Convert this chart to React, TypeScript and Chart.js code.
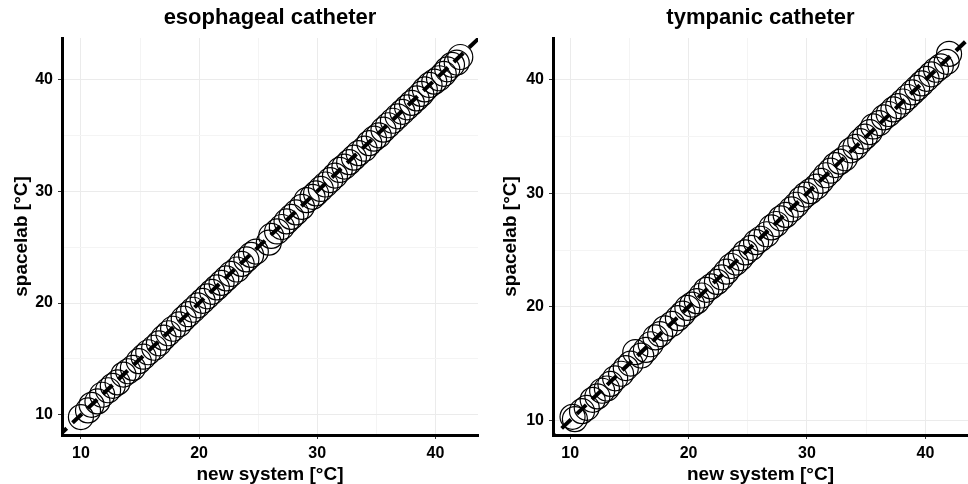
import { useEffect, useRef } from 'react';
import { Chart, registerables } from 'chart.js';

Chart.register(...registerables);

const esoX = [10.0, 10.6, 10.9, 11.4, 11.8, 12.3, 12.7, 13.1, 13.6, 14.0, 14.4, 14.9, 15.3, 15.7, 16.2, 16.6, 17.0, 17.4, 17.8, 18.3, 18.7, 19.1, 19.5, 19.9, 20.3, 20.7, 21.1, 21.5, 21.9, 22.3, 22.7, 23.2, 23.6, 24.0, 24.4, 24.8, 25.9, 26.1, 26.6, 27.0, 27.4, 27.8, 28.2, 28.7, 29.1, 29.6, 29.9, 30.3, 30.7, 31.1, 31.5, 31.9, 32.3, 32.7, 33.1, 33.5, 34.0, 34.4, 34.8, 35.2, 35.6, 36.0, 36.4, 36.8, 37.2, 37.6, 38.0, 38.4, 38.8, 39.1, 39.5, 39.9, 40.3, 40.7, 41.0, 41.4, 41.8, 42.1];
const esoY = [9.8, 10.4, 10.9, 11.2, 11.8, 12.2, 12.6, 12.9, 13.6, 13.9, 14.2, 14.8, 15.2, 15.6, 16.0, 16.4, 16.9, 17.3, 17.7, 18.1, 18.6, 19.0, 19.4, 19.8, 20.2, 20.6, 21.0, 21.4, 21.8, 22.2, 22.6, 23.0, 23.5, 23.9, 24.3, 24.6, 25.4, 26.0, 26.4, 26.8, 27.3, 27.7, 28.1, 28.6, 29.2, 29.5, 29.8, 30.2, 30.6, 31.0, 31.4, 31.9, 32.2, 32.6, 33.0, 33.4, 33.8, 34.3, 34.7, 35.0, 35.5, 35.9, 36.3, 36.7, 37.1, 37.5, 37.9, 38.3, 38.7, 39.1, 39.5, 39.8, 40.1, 40.5, 40.9, 41.3, 41.5, 42.0];

const tymX = [10.2, 10.4, 11.0, 11.4, 11.9, 12.3, 12.7, 13.1, 13.4, 13.8, 14.3, 14.7, 15.1, 15.5, 16.0, 16.4, 16.8, 17.2, 17.6, 18.0, 18.6, 19.1, 19.5, 19.9, 20.3, 20.7, 21.1, 21.5, 21.9, 22.4, 22.8, 23.2, 23.6, 24.0, 24.4, 24.8, 25.3, 25.7, 26.1, 26.6, 27.0, 27.4, 27.8, 28.2, 28.7, 29.1, 29.5, 29.9, 30.3, 30.8, 31.2, 31.6, 32.0, 32.4, 32.8, 33.2, 33.7, 34.1, 34.5, 34.9, 35.3, 35.6, 36.1, 36.5, 36.9, 37.3, 37.7, 38.1, 38.5, 38.9, 39.3, 39.7, 40.1, 40.5, 40.9, 41.3, 41.8, 42.0];
const tymY = [10.3, 10.1, 10.8, 11.1, 11.8, 12.1, 12.6, 12.8, 13.2, 13.7, 14.1, 14.6, 15.0, 16.0, 15.7, 16.2, 16.7, 17.3, 17.6, 18.1, 18.5, 19.0, 19.4, 19.9, 20.2, 20.5, 21.0, 21.5, 21.8, 22.2, 22.6, 23.1, 23.6, 23.9, 24.3, 24.8, 25.2, 25.7, 26.0, 26.4, 27.0, 27.3, 27.8, 28.1, 28.6, 29.0, 29.5, 29.9, 30.2, 30.6, 31.1, 31.6, 32.0, 32.5, 32.8, 33.1, 33.8, 34.1, 34.6, 35.0, 35.4, 35.9, 36.2, 36.7, 37.0, 37.4, 37.7, 38.1, 38.5, 38.9, 39.3, 39.7, 40.1, 40.5, 40.9, 41.2, 41.6, 42.3];

const majorTicks = [10, 20, 30, 40];
const minorTicks = [15, 25, 35];
const identityLine = [8, 44];

const FONT = 'Liberation Sans, Arial, Helvetica, sans-serif';

interface PanelProps {
  title: string;
  xs: number[];
  ys: number[];
  xRange: [number, number];
  yRange: [number, number];
  yAxisWidth: number;
  yTitlePad: number;
  rightPad: number;
}

// ggplot centres the title over the panel, not over the whole canvas
const panelTitle = {
  id: 'panelTitle',
  afterDraw(chart: any, _args: any, opts: any) {
    const { ctx, chartArea } = chart;
    ctx.save();
    ctx.fillStyle = '#000';
    ctx.font = `bold 22px ${FONT}`;
    ctx.textAlign = 'center';
    ctx.textBaseline = 'middle';
    ctx.fillText(opts.text, (chartArea.left + chartArea.right) / 2, 18);
    ctx.restore();
  },
};

function Panel({ title, xs, ys, xRange, yRange, yAxisWidth, yTitlePad, rightPad }: PanelProps) {
  const canvasRef = useRef<HTMLCanvasElement>(null);
  const chartInstance = useRef<Chart | null>(null);

  useEffect(() => {
    if (!canvasRef.current) return;
    if (chartInstance.current) chartInstance.current.destroy();
    const ctx = canvasRef.current.getContext('2d');
    if (!ctx) return;

    const allTicks = [...majorTicks, ...minorTicks].sort((a, b) => a - b);
    const isMajor = (v: number) => majorTicks.includes(v);

    const axisBase = (min: number, max: number) => ({
      type: 'linear' as const,
      min,
      max,
      afterBuildTicks: (scale: any) => {
        scale.ticks = allTicks.map((v) => ({ value: v }));
      },
      border: { display: true, color: '#000', width: 3 },
      grid: {
        color: (c: any) => (c.tick && isMajor(c.tick.value) ? '#ebebeb' : '#f4f4f4'),
        tickColor: (c: any) => (c.tick && isMajor(c.tick.value) ? '#333' : 'rgba(0,0,0,0)'),
        lineWidth: 1,
        tickLength: 4,
        drawTicks: true,
      },
      ticks: {
        color: '#000',
        padding: 5,
        font: { family: FONT, size: 16, weight: 'bold' as const },
        callback: (v: any) => (isMajor(Number(v)) ? String(v) : ''),
      },
    });

    chartInstance.current = new Chart(ctx, {
      type: 'scatter',
      data: {
        datasets: [
          {
            type: 'line',
            data: identityLine.map((v) => ({ x: v, y: v })),
            borderColor: '#000',
            borderWidth: 4,
            borderDash: [13, 8],
            pointRadius: 0,
            showLine: true,
            fill: false,
            order: 0,
          },
          {
            data: xs.map((x, i) => ({ x, y: ys[i] })),
            pointRadius: 12.5,
            pointHoverRadius: 12.5,
            pointBorderWidth: 1.2,
            borderColor: '#000',
            backgroundColor: 'rgba(0,0,0,0)',
            order: 1,
          },
        ],
      },
      plugins: [panelTitle],
      options: {
        responsive: true,
        maintainAspectRatio: false,
        animation: false,
        layout: { autoPadding: false, padding: { top: 0, left: 0, right: rightPad, bottom: 0 } },
        plugins: {
          legend: { display: false },
          tooltip: { enabled: false },
          title: {
            display: true,
            text: title,
            color: 'rgba(0,0,0,0)',
            font: { family: FONT, size: 22, weight: 'bold' },
            padding: { top: 4, bottom: 7.6 },
          },
          // @ts-ignore
          panelTitle: { text: title },
        },
        scales: {
          x: {
            ...axisBase(xRange[0], xRange[1]),
            position: 'bottom',
            afterFit: (scale: any) => {
              scale.height = 49;
              scale.paddingLeft = 0;
              scale.paddingRight = 0;
            },
            title: {
              display: true,
              text: 'new system [°C]',
              color: '#000',
              font: { family: FONT, size: 19, weight: 'bold' },
              padding: { top: 0, bottom: -2 },
            },
          },
          y: {
            ...axisBase(yRange[0], yRange[1]),
            position: 'left',
            afterFit: (scale: any) => {
              scale.width = yAxisWidth;
              scale.paddingTop = 0;
              scale.paddingBottom = 0;
            },
            title: {
              display: true,
              text: 'spacelab [°C]',
              color: '#000',
              font: { family: FONT, size: 19, weight: 'bold' },
              padding: { top: yTitlePad, bottom: 0 },
            },
          },
        },
      },
    });

    return () => {
      if (chartInstance.current) {
        chartInstance.current.destroy();
        chartInstance.current = null;
      }
    };
  }, [title, xs, ys, xRange, yRange, yAxisWidth, yTitlePad, rightPad]);

  return (
    <div style={{ position: 'relative', width: 484, height: 484 }}>
      <canvas ref={canvasRef} />
    </div>
  );
}

export default function App() {
  return (
    <div
      style={{
        position: 'absolute',
        top: 0,
        left: 0,
        width: 968,
        height: 484,
        display: 'flex',
        background: '#fff',
      }}
    >
      <Panel
        title="esophageal catheter"
        xs={esoX}
        ys={esoY}
        xRange={[8.4, 43.6]}
        yRange={[8.2, 43.7]}
        yAxisWidth={62}
        yTitlePad={10.5}
        rightPad={6}
      />
      <Panel
        title="tympanic catheter"
        xs={tymX}
        ys={tymY}
        xRange={[8.55, 43.6]}
        yRange={[8.7, 43.7]}
        yAxisWidth={69}
        yTitlePad={15}
        rightPad={0}
      />
    </div>
  );
}
